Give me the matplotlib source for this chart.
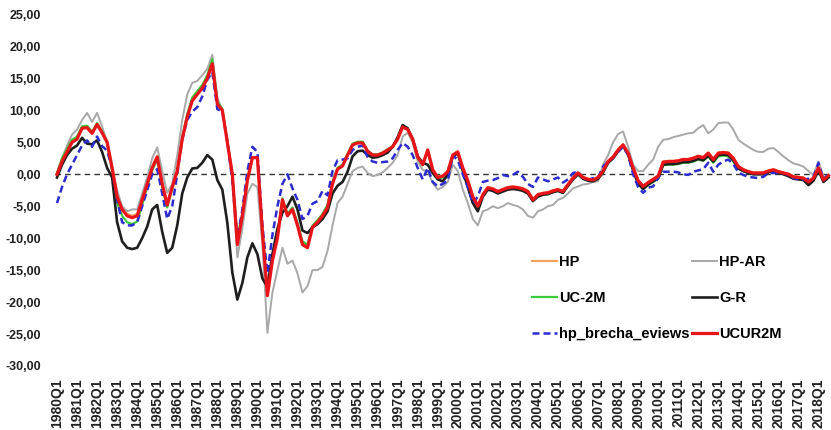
import matplotlib
matplotlib.use("Agg")
import matplotlib.pyplot as plt

plt.rcParams['font.family'] = ['Liberation Sans', 'DejaVu Sans']
plt.rcParams['font.weight'] = 'bold'

# quarterly output gap estimates, 1980Q1 - 2018Q3
hp = [
    0.1, 2.3, 3.8, 5.3,        # 1980
    5.8, 7.4, 7.5, 6.6,        # 1981
    8.0, 6.7, 5.2, 1.2,        # 1982
    -3.3, -5.3, -6.2, -6.5,    # 1983
    -6.2, -3.8, -1.3, 1.2,     # 1984
    2.9, -1.3, -4.6, -1.8,     # 1985
    0.7, 5.8, 9.3, 11.8,       # 1986
    12.8, 13.8, 15.3, 17.6,    # 1987
    11.2, 10.1, 5.1, 0.1,      # 1988
    -10.6, -6.2, -0.8, 2.7,    # 1989
    2.7, -8.7, -18.6, -13.2,   # 1990
    -9.7, -3.8, -6.3, -5.3,    # 1991
    -7.8, -10.8, -11.2, -8.1,  # 1992
    -7.3, -6.3, -5.0, -1.3,    # 1993
    1.0, 1.4, 3.1, 4.7,        # 1994
    5.0, 5.0, 3.7, 3.1,        # 1995
    3.1, 3.4, 3.9, 4.4,        # 1996
    5.6, 7.5, 7.1, 5.6,        # 1997
    2.8, 1.6, 3.9, 0.8,        # 1998
    -0.4, -0.2, 0.5, 3.1,      # 1999
    3.6, 1.1, -0.9, -3.4,      # 2000
    -4.9, -3.1, -2.0, -2.2,    # 2001
    -2.6, -2.3, -2.0, -1.9,    # 2002
    -2.0, -2.2, -2.6, -3.9,    # 2003
    -3.1, -2.9, -2.8, -2.5,    # 2004
    -2.3, -2.6, -1.5, -0.5,    # 2005
    0.3, -0.4, -0.7, -0.8,     # 2006
    -0.4, 0.6, 2.1, 2.8,       # 2007
    3.9, 4.7, 3.4, 1.1,        # 2008
    -0.9, -1.8, -1.2, -0.7,    # 2009
    -0.2, 2.0, 2.1, 2.1,       # 2010
    2.2, 2.4, 2.4, 2.6,        # 2011
    2.9, 2.7, 3.4, 2.4,        # 2012
    3.4, 3.5, 3.4, 2.6,        # 2013
    1.3, 0.8, 0.5, 0.3,        # 2014
    0.3, 0.3, 0.6, 0.8,        # 2015
    0.5, 0.3, 0.1, -0.3,       # 2016
    -0.4, -0.5, -1.1, -0.5,    # 2017
    1.1, -0.8, -0.1,           # 2018
]

hp_ar = [
    0.0, 2.5, 4.5, 6.2,
    7.0, 8.5, 9.6, 8.2,
    9.6, 7.5, 5.0, 1.0,
    -2.5, -5.0, -5.8, -5.5,
    -5.5, -3.0, -0.5, 2.5,
    4.2, 0.5, -2.9, -1.5,
    3.0, 8.5, 12.5, 14.3,
    14.6, 15.5, 16.5, 18.7,
    12.0, 10.0, 5.5, -1.0,
    -13.0, -8.5, -3.0, -1.5,
    -2.0, -11.0, -24.8, -18.5,
    -15.0, -11.5, -14.0, -13.5,
    -15.5, -18.5, -17.5, -15.0,
    -15.0, -14.5, -12.0, -8.0,
    -4.5, -3.5, -1.5, 0.5,
    1.0, 1.2, 0.2, -0.3,
    -0.1, 0.3, 1.0, 1.8,
    3.0, 5.9, 6.5, 5.0,
    2.0, 0.7, 0.4, -1.4,
    -2.4, -2.0, -1.2, 1.5,
    0.5, -2.4, -4.5, -7.0,
    -8.0, -5.8, -5.5, -5.0,
    -5.3, -5.0, -4.5, -4.8,
    -5.0, -5.5, -6.5, -6.8,
    -5.8, -5.5, -5.0, -4.8,
    -4.0, -3.7, -3.0, -2.2,
    -1.9, -1.6, -1.5, -1.2,
    -1.1, 1.5, 3.0, 5.0,
    6.3, 6.7, 4.3, 1.5,
    0.5, 0.5, 1.5, 2.3,
    4.3, 5.4, 5.5, 5.8,
    6.0, 6.2, 6.4, 6.5,
    7.2, 7.7, 6.4, 7.0,
    8.0, 8.1, 8.1, 7.0,
    5.4, 4.8, 4.3, 3.8,
    3.5, 3.5, 4.0, 4.1,
    3.5, 2.8, 2.2, 1.7,
    1.5, 1.2, 0.5, -0.1,
    2.0, -0.4, -0.5,
]

uc_2m = [
    0.2, 2.5, 4.0, 5.4,
    5.9, 7.5, 7.6, 6.6,
    8.0, 6.7, 5.0, 0.5,
    -4.5, -6.5, -7.5, -7.8,
    -7.4, -4.8, -2.0, 0.6,
    2.3, -2.0, -5.2, -2.3,
    0.5, 5.8, 9.4, 12.0,
    13.0, 14.0, 15.5, 18.0,
    11.4, 10.2, 5.2, 0.0,
    -10.0, -6.0, -0.8, 2.7,
    2.7, -9.0, -18.5, -13.0,
    -9.6, -3.8, -6.2, -5.2,
    -7.6, -10.5, -11.0, -8.0,
    -7.2, -6.2, -4.8, -1.2,
    1.0, 1.5, 3.2, 4.8,
    5.1, 5.1, 3.7, 3.1,
    3.1, 3.4, 3.9, 4.4,
    5.6, 7.5, 7.0, 5.4,
    2.6, 1.4, 3.6, 0.5,
    -0.7, -0.5, 0.3, 2.9,
    3.4, 0.9, -1.2, -3.7,
    -5.2, -3.4, -2.3, -2.5,
    -2.9, -2.6, -2.3, -2.2,
    -2.3, -2.5, -2.9, -4.1,
    -3.4, -3.2, -3.1, -2.8,
    -2.6, -2.9, -1.8, -0.8,
    0.0, -0.7, -1.0, -1.1,
    -0.7, 0.3, 1.8, 2.5,
    3.6, 4.4, 3.1, 0.6,
    -1.4, -2.3, -1.7, -1.2,
    -0.7, 1.4, 1.5, 1.5,
    1.6, 1.8, 1.8, 2.0,
    2.3, 2.1, 2.8, 1.8,
    2.8, 2.9, 2.8, 2.0,
    0.9, 0.5, 0.2, 0.0,
    0.1, 0.1, 0.4, 0.6,
    0.3, 0.1, -0.1, -0.5,
    -0.6, -0.7, -1.3, -0.7,
    0.9, -1.0, -0.3,
]

g_r = [
    -0.5, 1.5, 3.0, 4.0,
    4.5, 5.7, 4.8, 4.7,
    5.3, 3.5, 1.0, -0.5,
    -7.5, -10.5, -11.5, -11.7,
    -11.5, -10.0, -8.2, -5.5,
    -4.8, -9.0, -12.3, -11.5,
    -8.0, -3.0, -0.5, 0.9,
    1.0, 1.8, 3.0, 2.3,
    -0.9, -2.4, -7.6, -15.4,
    -19.6, -17.0, -13.0, -10.8,
    -12.5, -16.3, -17.6, -12.5,
    -8.5, -6.0, -5.0, -3.5,
    -5.5, -8.8, -9.2, -8.3,
    -7.8, -7.0, -5.8, -3.0,
    -1.8, -1.2, 0.4, 2.8,
    3.6, 3.7, 3.0, 2.6,
    2.7, 3.0, 3.4, 4.3,
    5.8, 7.7, 7.2, 5.5,
    2.8, 1.8, 1.5, 0.2,
    -0.8, -1.1, -0.1, 2.8,
    3.3, 0.5, -2.0, -4.5,
    -5.8, -3.5, -2.4, -2.6,
    -3.0, -2.7, -2.4, -2.3,
    -2.4, -2.6, -3.0, -4.2,
    -3.5, -3.2, -3.1, -2.8,
    -2.6, -2.9, -1.8, -0.8,
    0.0, -0.7, -1.0, -1.1,
    -0.7, 0.3, 1.8, 2.5,
    3.6, 4.5, 3.1, 0.6,
    -1.5, -2.3, -1.6, -1.1,
    -0.6, 1.5, 1.6, 1.6,
    1.7, 1.9, 1.9, 2.1,
    2.4, 2.2, 2.9, 2.0,
    3.0, 3.1, 3.0, 2.2,
    0.9, 0.5, 0.2, 0.0,
    0.0, 0.0, 0.3, 0.5,
    0.2, 0.0, -0.3, -0.7,
    -0.8, -0.9, -1.7, -1.0,
    0.6, -1.2, -0.5,
]

hp_brecha_eviews = [
    -4.5, -2.0, 0.0, 1.5,
    3.0, 4.5, 5.3, 4.3,
    5.9, 4.4, 3.7, 1.0,
    -4.0, -7.5, -8.0, -8.0,
    -7.5, -5.0, -2.5, 0.0,
    0.8, -3.0, -7.0, -5.0,
    0.0, 5.5, 8.5, 9.8,
    10.5, 12.2, 14.8, 16.0,
    10.2, 9.8, 5.0, -1.0,
    -10.2, -5.5, 0.5, 4.3,
    3.5, -8.0, -15.5, -9.5,
    -5.0, -1.5, 0.0, -2.2,
    -4.0, -7.0, -6.5, -4.6,
    -4.2, -2.6, -3.3, 0.5,
    2.2, 2.3, 2.5, 3.8,
    4.3, 4.5, 2.7, 2.0,
    1.8, 1.9, 2.0, 2.5,
    3.8, 4.9, 4.3, 3.0,
    1.0, -0.8, 1.0, -1.2,
    -1.9, -1.5, -1.0, 3.0,
    2.2, 0.0, -2.0, -4.5,
    -3.5, -1.2, -1.0, -0.9,
    -0.6, -0.1, -0.3, -0.1,
    0.4, -0.4, -1.5, -2.0,
    -0.5, -0.8, -1.1, -0.8,
    -0.5, -1.3, -0.8, 0.2,
    0.4, -0.6, -0.9, -0.6,
    -0.5, 1.2, 2.0, 2.6,
    3.5, 4.3, 3.0, 0.0,
    -2.0, -2.9, -2.1, -1.9,
    -0.5, 0.4, 0.4, 0.4,
    0.3, 0.0, -0.1, 0.4,
    0.6, 0.8, 1.8, 0.4,
    1.5, 2.0, 2.3, 1.6,
    0.3, -0.1, -0.4, -0.5,
    -0.6, -0.4, 0.2, 0.2,
    0.2, 0.2, -0.2, -0.6,
    -0.8, -0.9, -0.7, -0.4,
    1.8, -0.9, 0.2,
]

ucur2m = [
    0.0, 2.0, 3.5, 5.0,
    5.5, 7.2, 7.3, 6.4,
    7.8, 6.5, 5.0, 1.0,
    -3.5, -5.5, -6.5, -6.8,
    -6.5, -4.0, -1.5, 1.0,
    2.7, -1.5, -4.8, -2.0,
    0.5, 5.5, 9.0, 11.5,
    12.5, 13.5, 15.0, 17.3,
    11.0, 10.0, 5.0, 0.0,
    -11.0, -6.5, -1.0, 2.6,
    2.6, -9.0, -19.0, -13.5,
    -10.0, -4.0, -6.5, -5.5,
    -8.0, -11.0, -11.5, -8.3,
    -7.5, -6.5, -5.2, -1.5,
    0.8, 1.3, 3.0, 4.6,
    4.9, 4.9, 3.6, 3.0,
    3.0, 3.3, 3.8, 4.3,
    5.5, 7.4, 7.0, 5.5,
    2.7, 1.5, 3.8, 0.7,
    -0.5, -0.3, 0.4, 3.0,
    3.5, 1.0, -1.0, -3.5,
    -5.0, -3.2, -2.1, -2.3,
    -2.7, -2.4, -2.1, -2.0,
    -2.1, -2.3, -2.7, -4.0,
    -3.2, -3.0, -2.9, -2.6,
    -2.4, -2.7, -1.6, -0.6,
    0.2, -0.5, -0.8, -0.9,
    -0.5, 0.5, 2.0, 2.7,
    3.8, 4.6, 3.3, 1.0,
    -1.0, -1.9, -1.3, -0.8,
    -0.3, 1.9, 2.0, 2.0,
    2.1, 2.3, 2.3, 2.5,
    2.8, 2.6, 3.3, 2.3,
    3.3, 3.4, 3.3, 2.5,
    1.2, 0.7, 0.4, 0.2,
    0.2, 0.2, 0.5, 0.7,
    0.4, 0.2, 0.0, -0.4,
    -0.5, -0.6, -1.2, -0.6,
    1.0, -0.9, -0.2,
]

quarters = [f"{y}Q{q}" for y in range(1980, 2019) for q in range(1, 5)][:len(ucur2m)]
x = list(range(len(quarters)))
y_ticks = [25, 20, 15, 10, 5, 0, -5, -10, -15, -20, -25, -30]

fig = plt.figure(figsize=(8.31, 4.30), dpi=100)
ax = fig.add_axes([55 / 831, 1 - 366 / 430, (831 - 55) / 831, (366 - 14.5) / 430])

ax.axhline(0, color='#333333', lw=1.0, ls=(0, (4, 3)), zorder=1)

l_hp, = ax.plot(x, hp, color='#F0A35E', lw=1.6, label='HP', zorder=2)
l_ar, = ax.plot(x, hp_ar, color='#A8A8A8', lw=1.4, label='HP-AR', zorder=2)
l_uc, = ax.plot(x, uc_2m, color='#3CCB3C', lw=1.6, label='UC-2M', zorder=3)
l_gr, = ax.plot(x, g_r, color='#1E1E1E', lw=1.9, label='G-R', zorder=3)
l_ev, = ax.plot(x, hp_brecha_eviews, color='#2B2BD0', lw=1.8, ls=(0, (2.8, 1.6)),
                label='hp_brecha_eviews', zorder=4)
l_ur, = ax.plot(x, ucur2m, color='#E8141A', lw=2.3, label='UCUR2M', zorder=5)

ax.set_xlim(-0.4, 154.5)
ax.set_ylim(-30, 25)

ax.set_yticks(y_ticks)
ax.set_yticklabels([f"{v:.2f}".replace('.', ',') for v in y_ticks],
                   fontsize=9, fontweight='bold', color='#222222')
ax.set_xticks(x[::4])
ax.set_xticklabels(quarters[::4], rotation=90, fontsize=10,
                   fontweight='bold', color='#222222')
ax.tick_params(axis='y', length=0, pad=10)
ax.tick_params(axis='x', length=0, pad=9)
for side in ax.spines.values():
    side.set_visible(False)

# legend fills column by column, so list the left column first
handles = [l_hp, l_uc, l_ev, l_ar, l_gr, l_ur]
fig.legend(handles, [h.get_label() for h in handles], ncol=2, loc='upper left',
           bbox_to_anchor=(532 / 831, 1 - 255 / 430),
           frameon=False, handlelength=1.7, handletextpad=0.15,
           columnspacing=0.2, labelspacing=1.5, borderpad=0, borderaxespad=0,
           prop={'size': 10.5, 'weight': 'bold'})

fig.savefig('out.png', dpi=100)
